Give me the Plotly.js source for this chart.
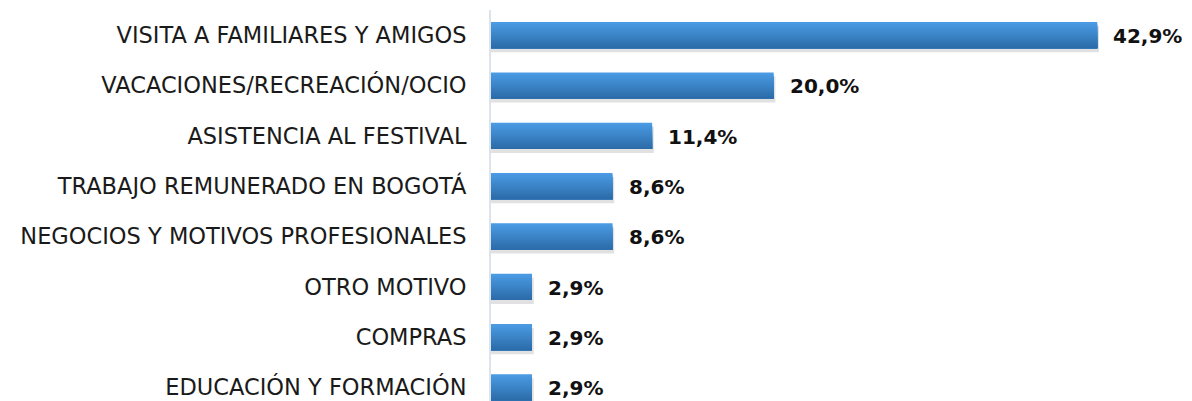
<!DOCTYPE html>
<html>
<head>
<meta charset="utf-8">
<script src="https://cdn.plot.ly/plotly-3.0.1.min.js"></script>
<style>html,body{margin:0;padding:0;background:#fff;}#chart{width:1192px;height:401px;}</style>
</head>
<body>
<div id="chart"></div>
<script>
const categories = [
  "VISITA A FAMILIARES Y AMIGOS",
  "VACACIONES/RECREACIÓN/OCIO",
  "ASISTENCIA AL FESTIVAL",
  "TRABAJO REMUNERADO EN BOGOTÁ",
  "NEGOCIOS Y MOTIVOS PROFESIONALES",
  "OTRO MOTIVO",
  "COMPRAS",
  "EDUCACIÓN Y FORMACIÓN"
];
const values = [42.9, 20.0, 11.4, 8.6, 8.6, 2.9, 2.9, 2.9];

const barH = 0.52;
const nStripes = 13;
const topCol = [74, 155, 227];
const botCol = [44, 108, 170];
const traces = [];
// soft shadow
traces.push({
  type: 'bar', orientation: 'h', y: categories, x: values.map(v => v + 0.12),
  width: barH, offset: -barH / 2 + 0.08,
  marker: {color: 'rgba(120,120,120,0.22)', line: {width: 0}},
  hoverinfo: 'skip', showlegend: false
});
for (let i = 0; i < nStripes; i++) {
  const t = i / (nStripes - 1);
  const c = topCol.map((a, k) => Math.round(a + (botCol[k] - a) * t));
  const off = -barH / 2 + i * barH / nStripes;
  traces.push({
    type: 'bar', orientation: 'h', y: categories, x: values,
    width: barH / 2 - off, offset: off,
    marker: {color: 'rgb(' + c.join(',') + ')', line: {width: 0}},
    hoverinfo: 'skip', showlegend: false
  });
}

const annotations = values.map((v, i) => ({
  x: v, y: categories[i], xref: 'x', yref: 'y',
  text: '<b>' + v.toFixed(1).replace('.', ',') + '%</b>',
  showarrow: false, xanchor: 'left', yanchor: 'middle', xshift: 14, yshift: -1,
  font: {family: 'DejaVu Sans, sans-serif', size: 20, color: '#111'}
}));

const layout = {
  width: 1192, height: 401,
  margin: {l: 491, r: 0, t: 10, b: 0},
  barmode: 'overlay',
  paper_bgcolor: '#fff', plot_bgcolor: '#fff',
  xaxis: {range: [0, 49.6], showgrid: false, zeroline: false, showticklabels: false, showline: false, fixedrange: true},
  yaxis: {
    type: 'category', range: [7.27, -0.5],
    showgrid: false, zeroline: false,
    showline: true, linecolor: '#dde3ea', linewidth: 2,
    ticks: 'outside', ticklen: 18, tickcolor: 'rgba(0,0,0,0)',
    tickfont: {family: 'DejaVu Sans, sans-serif', size: 22.5, color: '#1a1a1a'}
  },
  annotations: annotations,
  showlegend: false
};
Plotly.newPlot('chart', traces, layout, {staticPlot: true});
</script>
</body>
</html>
